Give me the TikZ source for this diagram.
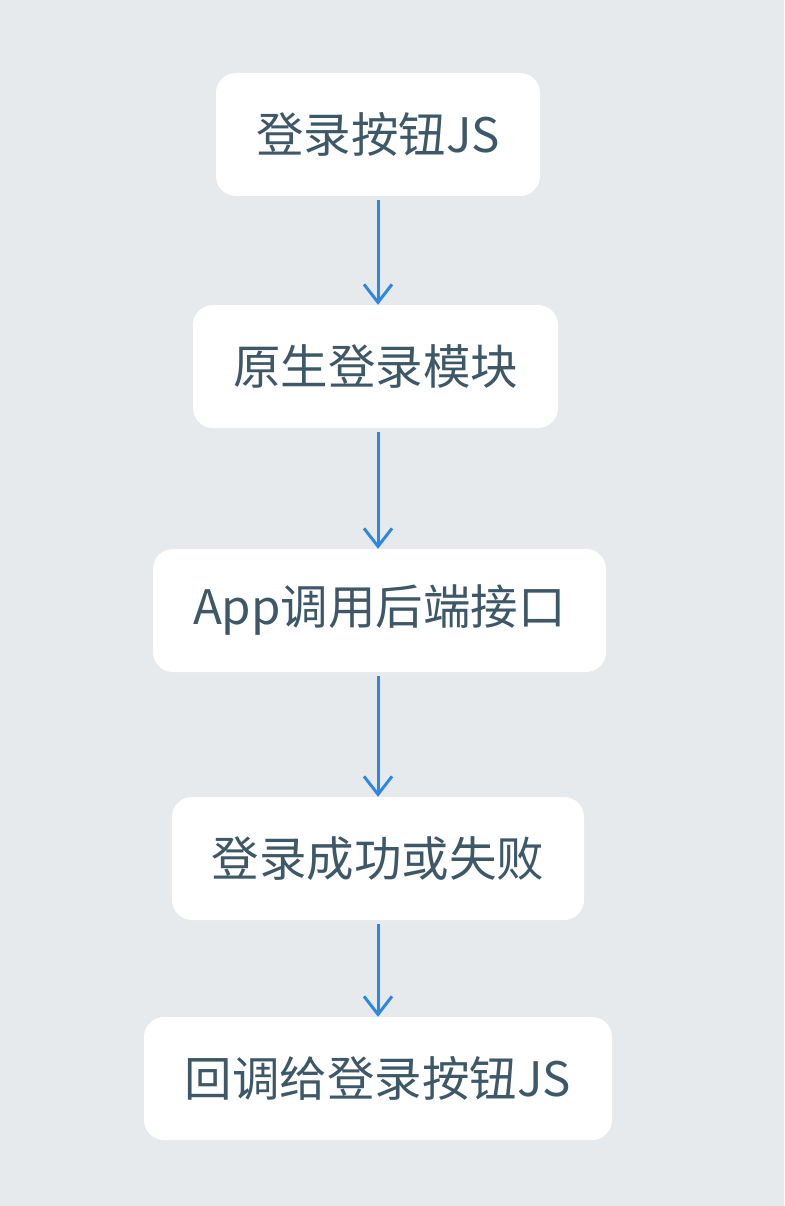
\documentclass[tikz,border=0pt]{standalone}
\usepackage{fontspec}
\setmainfont{Noto Sans CJK SC}
\usepackage{xcolor}
\usetikzlibrary{arrows.meta,backgrounds}
\definecolor{pagebg}{HTML}{E6EAED}
\definecolor{boxtext}{HTML}{3E5868}
\definecolor{flowblue}{HTML}{2E88E0}

\begin{document}
\begin{tikzpicture}[
    x=1pt, y=1pt,
    stepbox/.style={
      fill=white, rounded corners=20pt, minimum height=123pt,
      inner sep=0pt, text=boxtext, font=\fontsize{47.5}{56}\selectfont
    },
    flow/.style={-{Straight Barb[length=18pt,width=28pt,line width=3pt]},
      line width=3pt, flowblue, shorten <=4pt, shorten >=0pt}
  ]

  % ---------- fond ----------
  \fill[pagebg] (0,0) rectangle (784,-1206);
  \useasboundingbox (0,0) rectangle (784,-1206);

  % ---------- etapes ----------
  \node[stepbox, minimum width=324pt] (btn)    at (378,-134.5)  {登录按钮JS};
  \node[stepbox, minimum width=365pt] (native) at (375.5,-366.5) {原生登录模块};
  \node[stepbox, minimum width=453pt] (api)    at (379.5,-610.5) {App调用后端接口};
  \node[stepbox, minimum width=412pt] (result) at (378,-858.5)  {登录成功或失败};
  \node[stepbox, minimum width=468pt] (cb)     at (378,-1078.5) {回调给登录按钮JS};

  % ---------- fleches ----------
  \draw[flow] (btn.south)    -- (native.north -| btn.south);
  \draw[flow] (native.south -| btn.south) -- (api.north -| btn.south);
  \draw[flow] (api.south -| btn.south)    -- (result.north -| btn.south);
  \draw[flow] (result.south) -- (cb.north);

\end{tikzpicture}
\end{document}
